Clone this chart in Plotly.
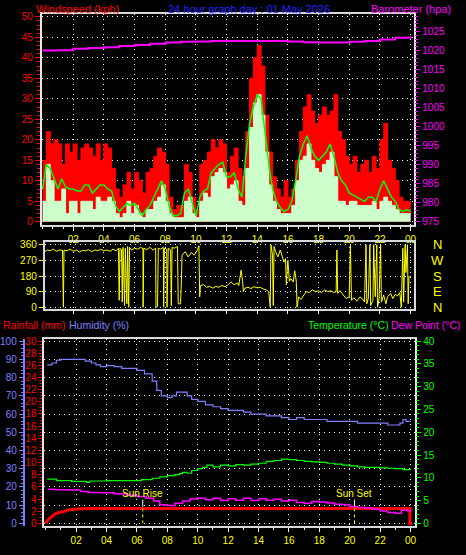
import plotly.graph_objects as go

# ---------------- data ----------------
# top chart: 15-minute samples 00:00 .. 24:00
gust = [15, 22, 19, 20, 19, 14, 19, 17, 19, 15, 18, 19,
        18, 16, 19, 15, 19, 18, 13, 8,
        6, 9, 12, 8, 12, 10, 7, 12,
        13, 16, 18, 17, 14, 6, 3, 4,
        4, 14, 12, 6, 3, 14, 15, 17,
        20, 18, 20, 19, 12, 16, 18, 13,
        11, 22, 35, 40, 43, 38, 26, 17,
        11, 8, 6, 10, 6, 8, 15, 22,
        28, 31, 27, 24, 26, 28, 26, 27,
        31, 22, 20, 16, 14, 16, 12, 14,
        15, 12, 16, 13, 20, 24, 15, 13, 10, 6, 5, 5, 4]
avg_speed = [8, 14, 13, 10.5, 8, 10.5, 8.5, 8, 8, 7.5, 7.5, 9,
             9, 7, 8, 9, 9, 8, 7.5, 4,
             2.5, 3.5, 4.5, 4, 4.5, 3, 1.5, 3,
             4, 6, 8, 10, 8, 4, 1.5, 1.5,
             2, 7, 8, 5, 1.5, 6, 7.5, 8,
             12, 13, 14, 14.5, 11, 11, 12, 8,
             6, 16, 24, 28, 31, 30, 22, 14,
             8, 5, 3.5, 2.5, 3, 5, 10, 16,
             19, 21, 18, 16, 15, 16, 17, 19,
             16, 12, 10, 9, 7, 6.5, 6, 5.5,
             5, 6, 6, 5, 8, 10, 8, 6, 5, 3, 2.5, 3, 2.5]
speed = [5, 14, 10, 5, 5, 8, 2, 5, 5, 2, 5, 5,
         5, 3, 6, 5, 5, 6, 5, 2,
         1, 2, 5, 2, 4, 2, 1, 3,
         3, 5, 6, 9, 5, 2, 1, 1,
         1, 5, 6, 2, 1, 5, 7, 6,
         11, 12, 13, 12, 8, 9, 10, 5,
         4, 13, 23, 29, 31, 26, 17, 9,
         5, 3, 2, 2, 2, 4, 10, 15,
         16, 19, 15, 13, 12, 14, 15, 17,
         11, 5, 5, 4, 5, 5, 4, 4,
         4, 4, 5, 3, 5, 6, 5, 4, 3, 2, 2, 2, 2]
t15 = [i / 4 for i in range(len(gust))]

baro_t = list(range(25))
baro = [1020.0, 1020.1, 1020.5, 1020.7, 1020.9, 1021.2, 1021.5, 1021.8, 1022.1,
        1022.3, 1022.4, 1022.5, 1022.5, 1022.5, 1022.5, 1022.5, 1022.4, 1022.2,
        1022.1, 1022.1, 1022.3, 1022.5, 1022.9, 1023.4, 1023.8]

# wind direction
dir_t = [0.15, 0.3, 0.5, 0.7, 0.9, 1.1, 1.3, 1.36, 1.4, 1.6,
         1.8, 2.0, 2.2, 2.4, 2.6, 2.8, 3.0, 3.2, 3.4, 3.6,
         3.8, 4.0, 4.2, 4.4, 4.6, 4.8, 4.95, 5.0, 5.05, 5.15,
         5.2, 5.25, 5.35, 5.4, 5.5, 5.55, 5.62, 5.68, 5.8, 6.0,
         6.2, 6.4, 6.55, 6.56, 6.6, 6.8, 7.0, 7.2, 7.38, 7.4,
         7.5, 7.55, 7.7, 7.88, 7.9, 7.95, 8.1, 8.12, 8.2, 8.35,
         8.4, 8.45, 8.6, 8.8, 8.85, 9.0, 9.05, 9.1, 9.3, 9.5,
         9.7, 9.9, 10.1, 10.2, 10.25, 10.3, 10.5, 10.7, 10.9, 11.1,
         11.3, 11.5, 11.7, 11.9, 12.1, 12.3, 12.5, 12.7, 12.8, 12.95,
         13.05, 13.1, 13.2, 13.4, 13.6, 13.8, 14.0, 14.2, 14.4, 14.6,
         14.75, 14.85, 14.9, 15.0, 15.05, 15.1, 15.2, 15.35, 15.5, 15.6,
         15.75, 15.85, 15.9, 16.0, 16.1, 16.2, 16.35, 16.45, 16.55, 16.6,
         16.7, 16.85, 17.0, 17.2, 17.4, 17.6, 17.8, 18.0, 18.2, 18.4,
         18.6, 18.8, 19.0, 19.15, 19.2, 19.25, 19.4, 19.6, 19.8, 20.0,
         20.08, 20.15, 20.3, 20.5, 20.7, 20.9, 21.0, 21.1, 21.15, 21.25,
         21.35, 21.4, 21.55, 21.6, 21.7, 21.8, 21.85, 21.95, 22.05, 22.1,
         22.25, 22.4, 22.5, 22.7, 22.85, 23.0, 23.15, 23.3, 23.4, 23.5,
         23.55, 23.65, 23.7, 23.8, 23.85, 23.9]
dir_v = [320, 330, 325, 335, 322, 330, 328, 0, 330, 325,
         335, 322, 330, 318, 328, 325, 332, 320, 330, 326,
         334, 325, 330, 322, 335, 325, 340, 40, 340, 330,
         30, 345, 10, 340, 20, 350, 0, 345, 330, 340,
         335, 345, 338, 0, 340, 332, 345, 330, 340, 0,
         5, 340, 335, 345, 0, 340, 335, 0, 340, 330,
         10, 345, 340, 350, 20, 20, 130, 300, 320, 290,
         315, 300, 330, 355, 60, 125, 130, 115, 120, 110,
         120, 115, 125, 118, 130, 145, 130, 140, 125, 214,
         150, 90, 110, 115, 108, 118, 112, 115, 105, 100,
         90, 0, 360, 300, 10, 350, 320, 290, 330, 300,
         260, 280, 130, 270, 150, 165, 145, 210, 150, 0,
         60, 45, 65, 90, 85, 100, 90, 95, 85, 100,
         90, 95, 85, 90, 330, 80, 95, 75, 50, 60,
         360, 40, 55, 35, 60, 45, 30, 360, 20, 50,
         360, 10, 40, 360, 60, 360, 0, 50, 360, 30,
         70, 20, 60, 80, 50, 75, 65, 85, 0, 340,
         30, 360, 200, 360, 20, 180]

# bottom chart
hum_t = [0.1, 0.4, 0.7, 1.0, 1.5, 2.0, 2.3, 2.6, 3.0, 3.3,
         3.6, 4.0, 4.5, 5.0, 5.5, 6.0, 6.5, 7.0, 7.3, 7.6,
         8.0, 8.3, 8.6, 9.0, 9.3, 9.6, 10.0, 10.5, 11.0, 11.5,
         12.0, 12.5, 13.0, 13.5, 14.0, 14.5, 15.0, 15.5, 16.0, 16.5,
         17.0, 17.5, 18.0, 18.5, 19.0, 19.5, 20.0, 20.5, 21.0, 21.5,
         22.0, 22.5, 23.0, 23.3, 23.5, 23.7, 24.0]
humidity = [87, 88, 89.5, 90, 90, 90, 90, 89, 88, 87,
            86, 86.5, 86, 85, 85, 84, 82, 78, 73, 70,
            69, 70, 72, 72, 70, 68, 67, 65, 64, 63,
            62, 62, 61, 60, 60, 59, 59, 58, 57, 58,
            57, 57, 57, 56, 56, 56, 56, 55, 55, 55,
            55, 54, 54, 55, 57, 56, 56]

temp_t = [0.1, 0.6, 0.7, 1.5, 1.7, 2.5, 2.7, 2.9, 3.5, 4.0,
          5.0, 6.0, 6.3, 7.0, 7.5, 8.0, 8.5, 8.8, 9.0, 9.3,
          9.6, 10.0, 10.3, 10.6, 11.0, 11.5, 12.0, 12.5, 13.0, 13.5,
          14.0, 14.5, 15.0, 15.5, 16.0, 16.5, 17.0, 17.5, 18.0, 18.5,
          19.0, 19.5, 20.0, 20.5, 21.0, 21.5, 22.0, 22.5, 23.0, 23.5, 24.0]
temperature = [9.7, 9.7, 9.4, 9.4, 9.2, 9.2, 9.0, 9.3, 9.3, 9.4,
               9.4, 9.4, 9.6, 9.9, 10.2, 10.5, 10.7, 10.9, 11.2, 11.0,
               11.6, 12.0, 12.3, 12.8, 12.4, 12.8, 12.6, 12.9, 12.8, 13.0,
               13.2, 13.6, 13.8, 14.1, 14.0, 13.8, 13.6, 13.5, 13.4, 13.2,
               13.0, 12.8, 12.6, 12.4, 12.3, 12.3, 12.2, 12.1, 12.0, 11.8, 11.7]

dew_t = [0.13, 0.6, 1.5, 2.3, 2.8, 3.6, 4.5, 5.3, 6.0, 6.6,
         7.1, 7.5, 8.0, 8.5, 9.0, 9.5, 10.0, 10.5, 11.0, 11.5,
         12.0, 12.5, 13.0, 13.5, 14.0, 14.5, 15.0, 15.5, 16.0, 16.5,
         17.0, 17.5, 18.0, 18.5, 19.0, 19.5, 20.0, 20.5, 21.0, 21.5,
         22.0, 22.5, 23.0, 23.4, 23.8, 24.0]
dew_point = [7.5, 7.4, 7.3, 7.0, 6.8, 6.7, 6.5, 6.2, 5.9, 5.5,
             4.9, 4.1, 3.9, 4.4, 4.9, 5.4, 5.5, 5.2, 5.5, 5.0,
             5.4, 5.1, 5.5, 5.0, 5.4, 5.1, 5.3, 4.9, 5.1, 4.6,
             4.4, 4.8, 4.7, 4.5, 4.2, 4.1, 3.7, 3.5, 3.4, 3.1,
             2.7, 2.4, 2.2, 2.9, 2.8, 2.9]

rain_t = [0.0, 0.16, 0.37, 0.7, 1.13, 1.46, 2.0, 2.8, 23.95, 23.95, 24.1]
rainfall = [0.0, 0.6, 1.1, 1.7, 1.9, 2.2, 2.35, 2.45, 2.45, 0.0, 0.0]

hour_ticks = [2, 4, 6, 8, 10, 12, 14, 16, 18, 20, 22, 24]
hour_labels = ["02", "04", "06", "08", "10", "12", "14", "16", "18", "20", "22", "00"]
dir_ticks = [0, 90, 180, 270, 360]
compass = ["N", "E", "S", "W", "N"]
sun_events = [("Sun Rise", 6.38), ("Sun Set", 20.31)]

# ---------------- figure ----------------
W, H = 466, 555
FONT = "Liberation Sans"


def fx(p):
    return p / W


def fy(p):
    return 1 - p / H


GRID = dict(showgrid=True, gridcolor="white", griddash="1px,4px", gridwidth=1)
FRAME = "#d8d8d8"

fig = go.Figure()

fig.add_trace(go.Scatter(x=t15, y=gust, mode="lines", fill="tozeroy", fillcolor="#ff0000",
                         line=dict(color="#ff0000", width=1, shape="hv"), xaxis="x", yaxis="y"))
fig.add_trace(go.Scatter(x=t15, y=speed, mode="lines", fill="tozeroy", fillcolor="#ccffcc",
                         line=dict(color="#ccffcc", width=1, shape="hv"), xaxis="x", yaxis="y"))
fig.add_trace(go.Scatter(x=t15, y=avg_speed, mode="lines",
                         line=dict(color="#00ff00", width=1.5), xaxis="x", yaxis="y"))
fig.add_trace(go.Scatter(x=baro_t, y=baro, mode="lines",
                         line=dict(color="#ff00ff", width=2, shape="hv"), xaxis="x", yaxis="y2"))

fig.add_trace(go.Scatter(x=dir_t, y=dir_v, mode="lines",
                         line=dict(color="#ffff00", width=1), xaxis="x2", yaxis="y3"))

fig.add_trace(go.Scatter(x=hum_t, y=humidity, mode="lines",
                         line=dict(color="#8080ff", width=1.2, shape="hv"), xaxis="x3", yaxis="y4"))
fig.add_trace(go.Scatter(x=rain_t, y=rainfall, mode="lines",
                         line=dict(color="#ff0000", width=3), xaxis="x3", yaxis="y5"))
fig.add_trace(go.Scatter(x=temp_t, y=temperature, mode="lines",
                         line=dict(color="#00ff00", width=1.2, shape="hv"), xaxis="x3", yaxis="y6"))
fig.add_trace(go.Scatter(x=dew_t, y=dew_point, mode="lines",
                         line=dict(color="#ff00ff", width=1.5, shape="hv"), xaxis="x3", yaxis="y6"))


def tfont(color, size=10):
    return dict(color=color, size=size, family=FONT)


xcommon = dict(tickmode="array", tickvals=hour_ticks, ticktext=hour_labels,
               ticks="outside", ticklen=4, tickcolor="white", zeroline=False,
               showline=True, mirror=True, linecolor=FRAME, linewidth=1.5, **GRID)

fig.update_layout(
    width=W, height=H, autosize=False,
    margin=dict(l=0, r=0, t=0, b=0),
    paper_bgcolor="black", plot_bgcolor="black",
    showlegend=False,
    font=dict(family=FONT, size=10, color="white"),
    xaxis=dict(domain=[fx(40), fx(416)], range=[-0.065, 24.19], anchor="y",
               tickfont=tfont("#ffff00"),
               minor=dict(dtick=2 / 3, tick0=0, ticks="outside", ticklen=2, tickcolor="white", showgrid=False),
               **xcommon),
    yaxis=dict(domain=[fy(224), fy(10)], range=[-0.72, 50.72], anchor="x",
               tickmode="linear", dtick=5, tick0=0, ticks="outside", ticklen=5, tickcolor="#ff0000",
               tickfont=tfont("#ff0000"),
               minor=dict(dtick=1, ticks="outside", ticklen=3, tickcolor="#ff0000", showgrid=False),
               showline=True, linecolor="#e8e8e8", linewidth=1.5, zeroline=False, **GRID),
    yaxis2=dict(overlaying="y", side="right", anchor="x", range=[974.22, 1029.66],
                tickmode="linear", dtick=5, tick0=975, ticks="outside", ticklen=5, tickcolor="#ff00ff",
                tickfont=tfont("#ff00ff"),
                minor=dict(dtick=1, ticks="outside", ticklen=3, tickcolor="#ff00ff", showgrid=False),
                showline=True, linecolor="#e8e8e8", linewidth=1.5, showgrid=False, zeroline=False),
    xaxis2=dict(domain=[fx(43), fx(416.5)], range=[0.13, 24.23], anchor="y3",
                showticklabels=False, **xcommon),
    yaxis3=dict(domain=[fy(309), fy(241)], range=[-7.4, 378.7], anchor="x2",
                tickmode="array", tickvals=dir_ticks, ticks="outside", ticklen=4, tickcolor="#ffff00",
                tickfont=tfont("#ffff00"), showline=True, mirror=True, linecolor=FRAME, linewidth=1.5,
                zeroline=False, **GRID),
    xaxis3=dict(domain=[fx(42.7), fx(417)], range=[-0.1, 24.26], anchor="y4",
                tickfont=tfont("#ffff00"),
                minor=dict(dtick=1, tick0=0, ticks="outside", ticklen=2, tickcolor="white", showgrid=False),
                **xcommon),
    yaxis4=dict(domain=[fy(530), fy(340)], range=[-1.6, 101.1], anchor="free", position=fx(22), side="left",
                tickmode="linear", dtick=10, tick0=0, ticks="outside", ticklen=4, tickcolor="#8080ff",
                tickfont=tfont("#8080ff"),
                minor=dict(dtick=2, ticks="outside", ticklen=2, tickcolor="#8080ff", showgrid=False),
                showline=True, linecolor="#8080ff", linewidth=2, zeroline=False, **GRID),
    yaxis5=dict(overlaying="y4", anchor="x3", side="left", range=[-0.49, 30.32],
                tickmode="linear", dtick=2, tick0=0, ticks="outside", ticklen=4, tickcolor="#ff0000",
                tickfont=tfont("#ff0000"),
                minor=dict(dtick=0.5, ticks="outside", ticklen=2, tickcolor="#ff0000", showgrid=False),
                showline=True, linecolor="#e8e8e8", linewidth=1.5, showgrid=False, zeroline=False),
    yaxis6=dict(overlaying="y4", anchor="x3", side="right", range=[-0.65, 40.43],
                tickmode="linear", dtick=5, tick0=0, ticks="outside", ticklen=5, tickcolor="#00ff00",
                tickfont=tfont("#00ff00"),
                minor=dict(dtick=1, ticks="outside", ticklen=3, tickcolor="#00ff00", showgrid=False),
                showline=True, linecolor="#e8e8e8", linewidth=1.5, showgrid=False, zeroline=False),
)

ann = []
ann.append(dict(text="Windspeed (kph)", x=fx(33), y=fy(5), xanchor="left", yanchor="middle",
                font=tfont("#ff0000", 11)))
ann.append(dict(text="24 hour graph day : 01 May 2026", x=fx(250), y=fy(5), xanchor="center",
                yanchor="middle", font=tfont("#2020ff", 11)))
ann.append(dict(text="Barometer (hpa)", x=fx(455), y=fy(5), xanchor="right", yanchor="middle",
                font=tfont("#ff00ff", 11)))
ann.append(dict(text="Rainfall (mm)", x=fx(0), y=fy(326), xanchor="left", yanchor="middle",
                font=tfont("#ff0000", 10.5)))
ann.append(dict(text="Humidity (%)", x=fx(67), y=fy(326), xanchor="left", yanchor="middle",
                font=tfont("#8080ff", 10.5)))
ann.append(dict(text="Temperature (°C)", x=fx(392), y=fy(326), xanchor="right", yanchor="middle",
                font=tfont("#00ff00", 10.5)))
ann.append(dict(text="Dew Point (°C)", x=fx(392), y=fy(326), xanchor="left", yanchor="middle",
                font=tfont("#ff00ff", 10.5)))
for lab, val in zip(compass, dir_ticks):
    ann.append(dict(text=lab, x=fx(440), xref="paper", y=val, yref="y3", xanchor="center",
                    yanchor="middle", font=tfont("#ffff00", 13)))
for lab, tt in sun_events:
    ann.append(dict(text=lab, x=tt, xref="x3", y=4.9, yref="y5", xanchor="center", yanchor="middle",
                    font=tfont("#ffff00", 10)))
for a in ann:
    a.setdefault("xref", "paper")
    a.setdefault("yref", "paper")
    a["showarrow"] = False
    a["borderpad"] = 0
fig.update_layout(annotations=ann)

shapes = []
for lab, tt in sun_events:
    shapes.append(dict(type="line", xref="x3", yref="y5", x0=tt, x1=tt, y0=0, y1=2.75,
                       line=dict(color="#ffff00", width=1, dash="dot")))
    shapes.append(dict(type="line", xref="x3", yref="y5", x0=tt, x1=tt, y0=2.75, y1=3.9,
                       line=dict(color="white", width=1)))
fig.update_layout(shapes=shapes)

fig.write_html("out.html", config={"displayModeBar": False},
               post_script="document.body.style.margin='0';")
